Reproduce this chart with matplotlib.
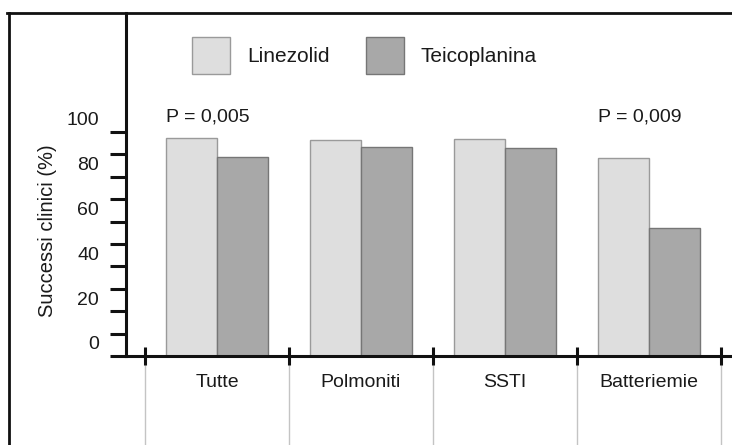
import matplotlib.pyplot as plt
from matplotlib.lines import Line2D
import numpy as np

plt.rcParams['font.family'] = ['Liberation Sans', 'DejaVu Sans']

categories = ['Tutte', 'Polmoniti', 'SSTI', 'Batteriemie']
linezolid = [97.3, 96.5, 97.0, 88.4]
teicoplanina = [88.8, 93.1, 92.8, 57.3]
p_labels = {0: 'P = 0,005', 3: 'P = 0,009'}
ytick_labels = [0, 20, 40, 60, 80, 100]

W, H = 732, 445
fig = plt.figure(figsize=(W / 100, H / 100), dpi=100)
# plot area in pixels: y axis at x=126, x axis at y=356, top at y=13
ax = fig.add_axes([126 / W, (H - 356) / H, (W - 126) / W, (356 - 13) / H])

x = np.arange(len(categories))
bw = 51 / 144
ax.bar(x - bw / 2, linezolid, bw, color='#dedede', edgecolor='#9a9a9a',
       linewidth=1, label='Linezolid', zorder=2)
ax.bar(x + bw / 2, teicoplanina, bw, color='#a8a8a8', edgecolor='#767676',
       linewidth=1, label='Teicoplanina', zorder=2)

ax.set_xlim((126 - 217) / 144, (W - 217) / 144)
ax.set_ylim(0, (356 - 13) / 2.24)

for s in ['right', 'top']:
    ax.spines[s].set_visible(False)
ax.spines['left'].set_linewidth(2.2)
ax.spines['bottom'].set_linewidth(2.2)
ax.spines['left'].set_color('#111111')
ax.spines['bottom'].set_color('#111111')

# y ticks every 10, labels every 20 sitting just above the tick
ax.set_yticks(np.arange(0, 101, 10))
ax.set_yticklabels([])
ax.tick_params(axis='y', direction='out', length=11.5, width=2.2,
               color='#111111')
for v in ytick_labels:
    ax.text(-27 / 606, v + 1.2, str(v), transform=ax.get_yaxis_transform(),
            ha='right', va='bottom', fontsize=14, color='#1a1a1a')

# x: boundary ticks crossing the axis, category names as minor labels
edges = np.arange(len(categories) + 1) - 0.5
ax.set_xticks(edges)
ax.set_xticklabels([])
ax.tick_params(axis='x', which='major', direction='inout', length=13,
               width=2.2, color='#111111')
ax.set_xticks(x, minor=True)
ax.set_xticklabels(categories, minor=True, fontsize=14, color='#1a1a1a')
ax.tick_params(axis='x', which='minor', length=0, pad=13)
ax.vlines(edges, -45, 0, colors='#c4c4c4', linewidth=1, clip_on=False,
          zorder=1)

for i, t in p_labels.items():
    ax.text(i - bw, 103, t, ha='left', va='bottom', fontsize=14,
            color='#1a1a1a')

ax.set_ylabel('Successi clinici (%)', fontsize=14.5, color='#1a1a1a',
              labelpad=0)
ax.yaxis.set_label_coords(-69 / 606, 0.364)

leg = ax.legend(loc='upper left', bbox_to_anchor=(192 / W, 1 - 37 / H),
                bbox_transform=fig.transFigure, ncol=2, frameon=False,
                fontsize=15, handlelength=1.83, handleheight=2.36,
                handletextpad=0.8, columnspacing=1.75, borderpad=0,
                borderaxespad=0)
for t in leg.get_texts():
    t.set_color('#1a1a1a')

# outer frame: left border and top line
fig.add_artist(Line2D([8.5 / W, 8.5 / W], [0, 1 - 13 / H], color='#111111',
                      linewidth=2.0, transform=fig.transFigure))
fig.add_artist(Line2D([7.5 / W, 1], [1 - 13 / H, 1 - 13 / H], color='#111111',
                      linewidth=2.0, transform=fig.transFigure))

fig.savefig('out.png', dpi=100)
